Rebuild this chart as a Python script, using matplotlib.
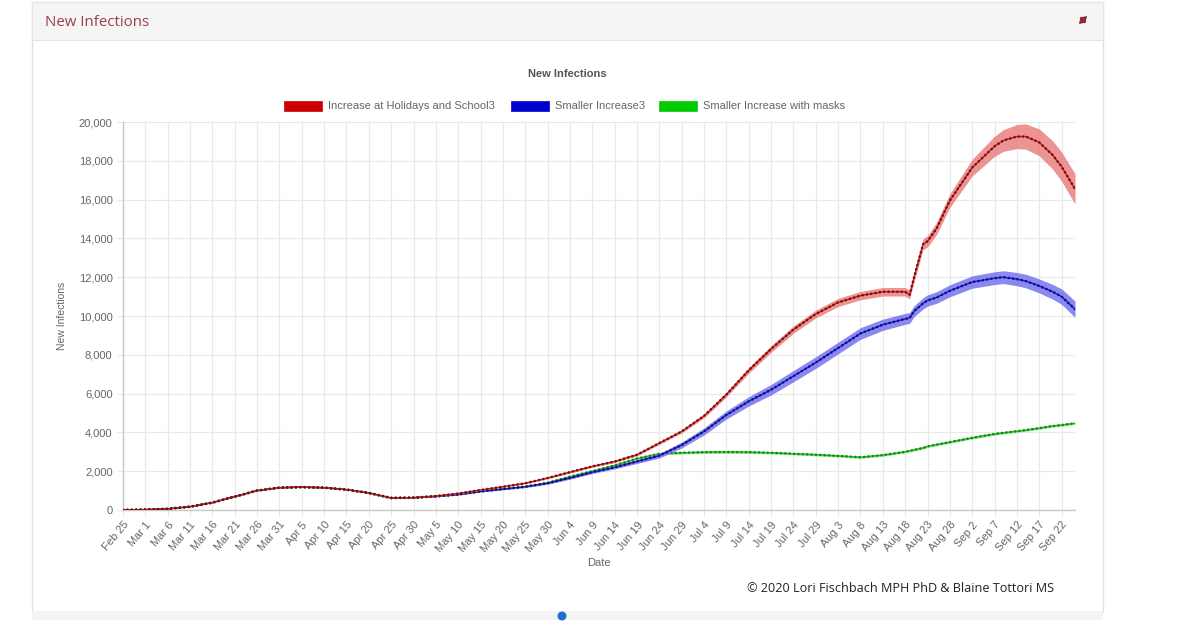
import matplotlib.pyplot as plt
from matplotlib.patches import Rectangle, Ellipse, FancyArrowPatch
from matplotlib.ticker import StrMethodFormatter

W, H = 1200, 630

# x tick labels, one every 5 days starting Feb 25 2020
tick_labels = ['Feb 25', 'Mar 1', 'Mar 6', 'Mar 11', 'Mar 16', 'Mar 21', 'Mar 26', 'Mar 31',
               'Apr 5', 'Apr 10', 'Apr 15', 'Apr 20', 'Apr 25', 'Apr 30', 'May 5', 'May 10',
               'May 15', 'May 20', 'May 25', 'May 30', 'Jun 4', 'Jun 9', 'Jun 14', 'Jun 19',
               'Jun 24', 'Jun 29', 'Jul 4', 'Jul 9', 'Jul 14', 'Jul 19', 'Jul 24', 'Jul 29',
               'Aug 3', 'Aug 8', 'Aug 13', 'Aug 18', 'Aug 23', 'Aug 28', 'Sep 2', 'Sep 7',
               'Sep 12', 'Sep 17', 'Sep 22']

series_names = ['Increase at Holidays and School3', 'Smaller Increase3', 'Smaller Increase with masks']

days = [0, 5, 10, 15, 20, 25, 30, 35, 40, 45, 50, 55, 60, 65, 70, 75, 80, 85, 90, 95,
        100, 105, 110, 115, 120, 125, 130, 135, 140, 145, 150, 155, 160, 165, 170, 175,
        176, 177, 179, 180, 182, 185, 190, 195, 197, 200, 202, 205, 208, 210, 213]

red = [0, 20, 60, 170, 380, 690, 1000, 1150, 1180, 1150, 1050, 880, 620, 640, 720, 850, 1030, 1200, 1380, 1650,
       1950, 2250, 2500, 2850, 3450, 4050, 4850, 5950, 7200, 8300, 9300, 10100, 10700, 11050, 11250, 11250,
       11100, 12000, 13700, 13850, 14500, 15950, 17650, 18750, 19050, 19250, 19250, 18950, 18300, 17700, 16550]
red_band = [0, 0, 0, 0, 5, 10, 15, 15, 15, 15, 15, 15, 15, 15, 20, 20, 25, 30, 35, 40,
            45, 50, 55, 60, 70, 80, 100, 120, 150, 170, 190, 200, 210, 215, 220, 220,
            220, 240, 280, 290, 310, 350, 430, 520, 560, 620, 650, 690, 730, 750, 780]

blue = [0, 20, 60, 170, 380, 690, 1000, 1150, 1180, 1150, 1050, 880, 620, 630, 700, 800, 960, 1080, 1200, 1380,
        1650, 1950, 2200, 2500, 2800, 3350, 4050, 4900, 5600, 6200, 6900, 7600, 8350, 9100, 9550, 9850,
        9900, 10250, 10650, 10800, 10950, 11300, 11750, 11950, 12000, 11900, 11800, 11550, 11250, 11000, 10350]
blue_band = [0, 0, 0, 0, 5, 10, 15, 15, 15, 15, 15, 15, 15, 15, 20, 25, 30, 35, 40, 50,
             60, 70, 80, 100, 120, 150, 180, 210, 240, 270, 290, 300, 300, 300, 290, 280,
             280, 280, 290, 290, 300, 310, 320, 330, 330, 340, 350, 360, 380, 400, 420]

green = [0, 20, 60, 170, 380, 690, 1000, 1150, 1180, 1150, 1050, 880, 620, 630, 700, 800, 960, 1080, 1200, 1400,
         1720, 2000, 2300, 2650, 2900, 2950, 2980, 2990, 2980, 2950, 2900, 2850, 2790, 2720, 2830, 3000,
         3050, 3100, 3200, 3280, 3370, 3500, 3720, 3920, 3980, 4060, 4120, 4220, 4330, 4380, 4470]
green_band = [0, 0, 0, 0, 5, 10, 15, 15, 15, 15, 15, 15, 15, 15, 20, 25, 30, 35, 40, 45,
              50, 55, 60, 60, 60, 60, 60, 60, 60, 60, 60, 60, 60, 60, 60, 60,
              60, 60, 60, 60, 60, 60, 60, 60, 60, 60, 60, 60, 60, 60, 60]


def fx(x):
    return x / W


def fy(y):
    return 1 - y / H


fig = plt.figure(figsize=(12, 6.3), dpi=100)
fig.patch.set_facecolor('white')

# card panel with header bar
fig.patches.append(Rectangle((fx(32), fy(612)), fx(1103) - fx(32), fy(2) - fy(612), transform=fig.transFigure,
                             facecolor='white', edgecolor='#e2e2e2', lw=1, zorder=-10))
fig.patches.append(Rectangle((fx(32), fy(40)), fx(1103) - fx(32), fy(2) - fy(40), transform=fig.transFigure,
                             facecolor='#f5f5f5', edgecolor='#e6e6e6', lw=0.8, zorder=-9))
fig.patches.append(Rectangle((fx(32), fy(620)), fx(1103) - fx(32), fy(611) - fy(620), transform=fig.transFigure,
                             facecolor='#f4f4f4', edgecolor='none', zorder=-9))
fig.patches.append(Ellipse((fx(562), fy(616)), 9 / W, 9 / H, transform=fig.transFigure,
                           facecolor='#1f6fd1', edgecolor='none', zorder=-8))
fig.text(fx(45), fy(22), 'New Infections', fontsize=10.8, color='#9a3d4c', family='Open Sans', va='center')
# expand icon
fig.patches.append(FancyArrowPatch((fx(1077), fy(26)), (fx(1089), fy(14)), transform=fig.transFigure,
                                   arrowstyle='<|-|>,head_length=0.4,head_width=0.25', mutation_scale=9,
                                   color='#8b2a3a', lw=1.0))

# chart title and legend
fig.text(fx(567), fy(74), 'New Infections', fontsize=8, fontweight='bold', color='#555555',
         family='Liberation Sans', ha='center', va='center')
legend_boxes = [(284, '#cc0000'), (511, '#0000cc'), (659, '#00cc00')]
for (x0, c), name in zip(legend_boxes, series_names):
    fig.patches.append(Rectangle((fx(x0), fy(111)), 38 / W, 10 / H, transform=fig.transFigure,
                                 facecolor=c, edgecolor=c, lw=0.5))
    fig.text(fx(x0 + 44), fy(106), name, fontsize=8, color='#666666', family='Liberation Sans', va='center')

ax = fig.add_axes([fx(123), fy(510), fx(1075) - fx(123), fy(122) - fy(510)])
ax.set_facecolor('none')

styles = [
    (green, green_band, '#22bb22', '#138a13', '#7fe27f'),
    (blue, blue_band, '#1a1ad0', '#10107a', '#7474ee'),
    (red, red_band, '#d01818', '#701010', '#e98080'),
]
z = 2
for vals, band, lc, dc, fc in styles:
    lo = [v - b for v, b in zip(vals, band)]
    hi = [v + b for v, b in zip(vals, band)]
    ax.fill_between(days, lo, hi, color=fc, alpha=0.85, lw=0, zorder=z)
    ax.plot(days, vals, color=lc, lw=1.0, zorder=z + 1)
    ax.plot(days, vals, color=dc, lw=1.9, ls=(0, (0.01, 1.65)), dash_capstyle='round', zorder=z + 2)
    z += 3

ax.set_xlim(0, 213)
ax.set_ylim(0, 20000)
ax.set_yticks(range(0, 20001, 2000))
ax.yaxis.set_major_formatter(StrMethodFormatter('{x:,.0f}'))
ax.set_xticks([5 * i for i in range(len(tick_labels))])
ax.set_xticklabels(tick_labels, rotation=50, ha='right', va='top', rotation_mode='anchor')

ax.grid(True, color='#e9e9e9', lw=0.9)
ax.set_axisbelow(True)
for s in ['top', 'right']:
    ax.spines[s].set_visible(False)
for s in ['left', 'bottom']:
    ax.spines[s].set_color('#c8c8c8')
    ax.spines[s].set_linewidth(1)
ax.tick_params(axis='both', length=4, color='#e6e6e6', labelcolor='#666666', labelsize=8)
ax.tick_params(axis='x', pad=3)
for lab in ax.get_xticklabels() + ax.get_yticklabels():
    lab.set_family('Liberation Sans')

fig.text(fx(62), fy(316), 'New Infections', rotation=90, fontsize=7.5, color='#666666',
         family='Liberation Sans', ha='center', va='center')
fig.text(fx(599), fy(563), 'Date', fontsize=8, color='#666666', family='Liberation Sans',
         ha='center', va='center')
fig.text(fx(747), fy(588), '\u00a9 2020 Lori Fischbach MPH PhD & Blaine Tottori MS', fontsize=9.1,
         color='#222222', family='Open Sans', va='center')

fig.savefig('out.png', dpi=100)
